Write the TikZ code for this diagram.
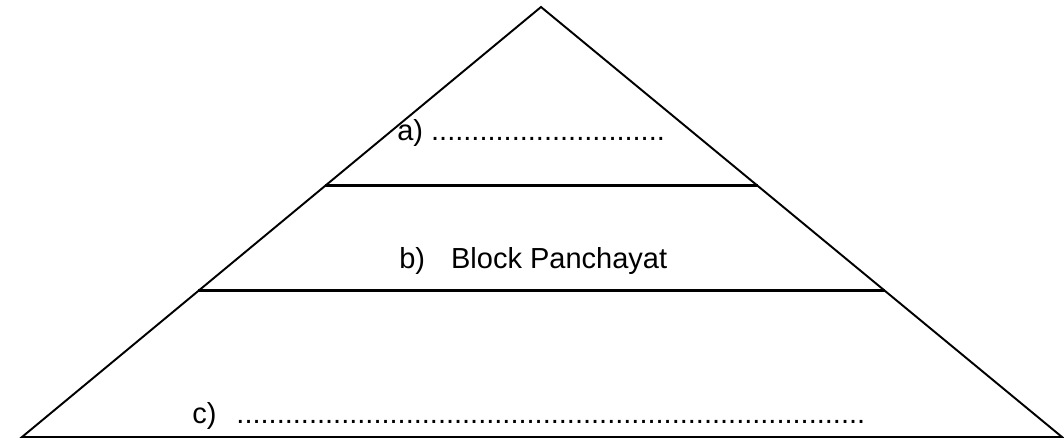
\documentclass[tikz,border=0pt]{standalone}
\usepackage{fontspec}
\setmainfont{Liberation Sans}
\usetikzlibrary{calc}
\begin{document}
\begin{tikzpicture}[every node/.style={anchor=base west,inner sep=0pt,font=\fontsize{16.5}{20}\selectfont}]
\useasboundingbox (0,0) rectangle (21.28,8.88);
\coordinate (top) at (10.82,8.74);
\coordinate (bl) at (0.44,0.14);
\coordinate (br) at (21.24,0.14);
\draw[line width=1.1pt,line join=miter] (bl) -- (top) -- (br) -- cycle;
\foreach \k/\t in {1/0.416,2/0.660} {
   \coordinate (l\k) at ($(top)!\t!(bl)$);
   \coordinate (r\k) at ($(top)!\t!(br)$);
   \draw[line width=1.7pt] (l\k) -- (r\k);}
\node (a) at (7.94,6.08) {a) .............................};
\node (b) at (7.98,3.52) {b)\hspace{0.52cm}Block Panchayat};
\node (c) at (3.84,0.42) {c)\hspace{0.4cm}..............................................................................};
\end{tikzpicture}
\end{document}
